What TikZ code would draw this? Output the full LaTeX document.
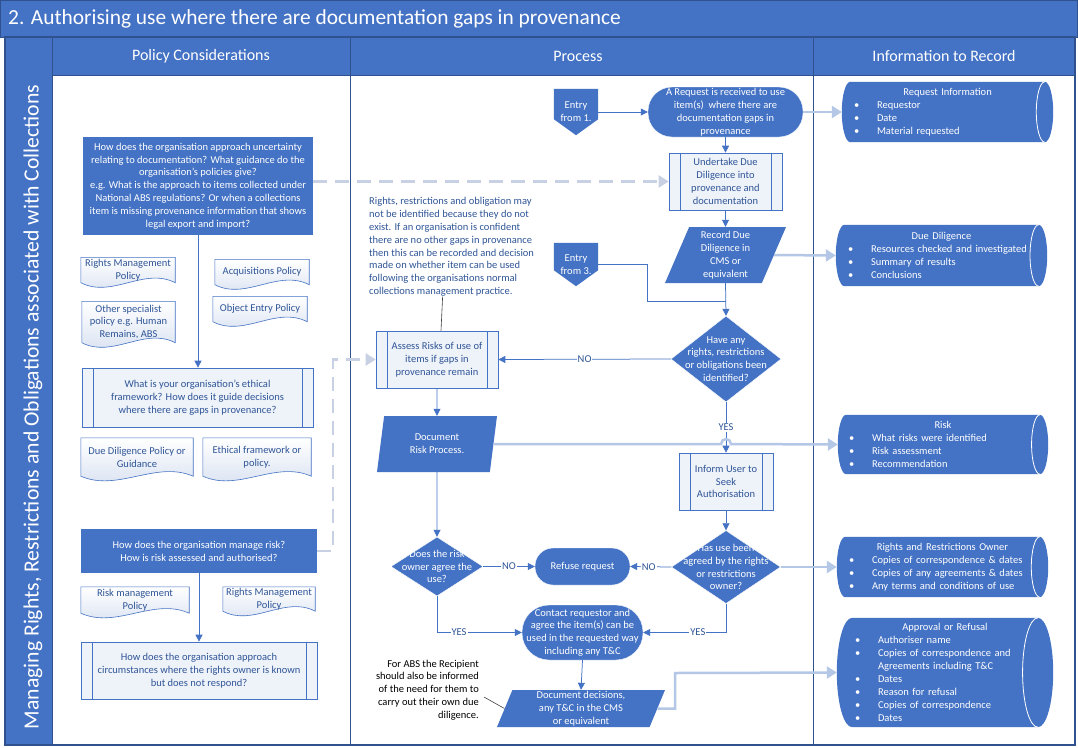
\documentclass[tikz,border=0pt]{standalone}
\usepackage{fontspec}
\setmainfont{Carlito}
\usepackage{tikz}
\usetikzlibrary{positioning,shapes.geometric,shapes.misc,arrows.meta,calc,backgrounds}
\definecolor{mainblue}{HTML}{4472C4}
\definecolor{frameblue}{HTML}{2F528F}
\definecolor{textblue}{HTML}{2F5597}
\definecolor{paleline}{HTML}{B4C7E7}
\definecolor{dashline}{HTML}{C8D1E3}
\definecolor{lightfill}{HTML}{EEF2F9}
\definecolor{docfill}{HTML}{D5DFF0}
\newcommand{\recitem}[1]{\makebox[23pt][l]{\textbullet}#1}
\newcommand{\rectitle}[1]{\hfill#1\hfill\null}
\tikzset{
  lanehead/.style={text=white, font=\fontsize{16}{19}\selectfont, inner sep=0pt},
  policy/.style={fill=mainblue, text=white, align=center, inner sep=1pt},
  subproc/.style={draw=mainblue, line width=0.7pt, fill=lightfill, text=textblue, align=center, inner sep=1pt,
    path picture={\draw[mainblue, line width=0.7pt]
      ([xshift=11pt]path picture bounding box.north west) -- ([xshift=11pt]path picture bounding box.south west)
      ([xshift=-11pt]path picture bounding box.north east) -- ([xshift=-11pt]path picture bounding box.south east);}},
  policydoc/.style={text=textblue, align=center, inner sep=0pt},
  docshape/.style={draw=mainblue, line width=0.6pt, top color=white, bottom color=docfill},
  terminal/.style={rectangle, fill=mainblue, draw=white, text=white, align=center, inner sep=0pt},
  datain/.style={trapezium, trapezium left angle=65, trapezium right angle=115, trapezium stretches body,
    fill=mainblue, text=white, align=center, inner sep=0pt},
  decision/.style={diamond, fill=mainblue, draw=white, inner sep=0pt},
  dectext/.style={text=white, align=center, inner sep=0pt},
  entrypoint/.style={text=white, align=center, minimum width=44pt, inner sep=0pt},
  record/.style={text=white, align=left, inner sep=0pt, font=\fontsize{10.5}{13}\selectfont},
  notetext/.style={text=textblue, align=left, inner sep=0pt},
  flowline/.style={draw=mainblue, line width=0.75pt, -{Triangle[length=7pt,width=7pt]}},
  flowlabel/.style={fill=white, inner sep=1pt, text=textblue},
  recline/.style={draw=paleline, line width=2.5pt, -{Triangle[length=10pt,width=12pt]}},
  policyline/.style={draw=dashline, line width=2.5pt, dash pattern=on 14pt off 8pt, -{Triangle[length=10pt,width=12pt]}},
  callout/.style={draw=black!75, line width=0.6pt}
}

\begin{document}
\begin{tikzpicture}[x=1pt, y=-1pt, font=\fontsize{10.5}{12.8}\selectfont]
  \useasboundingbox (0,0) rectangle (1078,747);

  % frame, title and lanes
  \fill[mainblue] (0,0) rectangle (1078,37);
  \draw[frameblue, line width=1pt] (0.5,0.5) rectangle (1077.5,37);
  \fill[mainblue] (5,37) rectangle (1075,75);
  \fill[mainblue] (5,75) rectangle (52,745);
  \draw[frameblue, line width=1.2pt] (5,37) rectangle (1075,745);
  \draw[frameblue, line width=1pt] (52,37) -- (52,745) (350,37) -- (350,745) (813,37) -- (813,745) (52,75) -- (1075,75);

  \node[anchor=west, inner sep=0pt, text=white, font=\fontsize{21.4}{25}\selectfont] (title) at (8,19)
    {2. Authorising use where there are documentation gaps in provenance};
  \node[rotate=90, inner sep=0pt, text=white, font=\fontsize{21.7}{25}\selectfont] (laneTitle) at (33,407)
    {Managing Rights, Restrictions and Obligations associated with Collections};
  \node[lanehead] (hPolicy) at (201,56) {Policy Considerations};
  \node[lanehead] (hProcess) at (578,56) {Process};
  \node[lanehead] (hRecord) at (944,56) {Information to Record};

  % policy considerations
  \node[policy, minimum width=230pt, minimum height=98pt] (polA) at (198,186)
    {How does the organisation approach uncertainty\\relating to documentation? What guidance do the\\organisation’s policies give?\\e.g. What is the approach to items collected under\\National ABS regulations? Or when a collections\\item is missing provenance information that shows\\legal export and import?};
  \node[policydoc, minimum width=94pt, minimum height=25pt] (docRights) at (128,270) {Rights Management\\Policy};
  \node[policydoc, minimum width=94pt, minimum height=25pt] (docAcq) at (262,272) {Acquisitions Policy};
  \node[policydoc, minimum width=93pt, minimum height=41pt] (docOther) at (128.5,322) {Other specialist\\policy e.g. Human\\Remains, ABS};
  \node[policydoc, minimum width=94pt, minimum height=25pt] (docEntry) at (260,309) {Object Entry Policy};
  \node[subproc, minimum width=231pt, minimum height=59pt] (polB) at (197.5,397.5)
    {What is your organisation’s ethical\\framework? How does it guide decisions\\where there are gaps in provenance?};
  \node[policydoc, minimum width=112pt, minimum height=38pt] (docDue) at (137,457) {Due Diligence Policy or\\Guidance};
  \node[policydoc, minimum width=108pt, minimum height=38pt] (docEthic) at (257,457) {Ethical framework or\\policy.};
  \node[policy, minimum width=236pt, minimum height=44pt] (polC) at (199,551)
    {How does the organisation manage risk?\\How is risk assessed and authorised?};
  \node[policydoc, minimum width=108pt, minimum height=26pt] (docRiskPol) at (135,600) {Risk management\\Policy};
  \node[policydoc, minimum width=92pt, minimum height=24pt] (docRights2) at (269,599) {Rights Management\\Policy};
  \node[subproc, minimum width=236pt, minimum height=57pt] (polD) at (199,670.5)
    {How does the organisation approach\\circumstances where the rights owner is known\\but does not respond?};

  % process
  \node[entrypoint, minimum height=46pt] (entry1) at (576,112) {Entry\\from 1.};
  \node[terminal, rounded corners=24pt, minimum width=155pt, minimum height=50pt] (request) at (725.5,112)
    {A Request is received to use\\item(s)\ \ where there are\\documentation gaps in\\provenance};
  \node[subproc, minimum width=113pt, minimum height=57pt] (undertake) at (725.5,181.5)
    {Undertake Due\\Diligence into\\provenance and\\documentation};
  \node[datain, trapezium left angle=63, trapezium right angle=117, minimum width=121pt, minimum height=56pt] (recordDD) at (725.5,255)
    {Record Due\\Diligence in\\CMS or\\equivalent};
  \node[entrypoint, minimum height=43pt] (entry3) at (576,264.5) {Entry\\from 3.};
  \node[notetext, anchor=west] (noteRRO) at (369,247)
    {Rights, restrictions and obligation may\\not be identified because they do not\\exist. If an organisation is confident\\there are no other gaps in provenance\\then this can be recorded and decision\\made on whether item can be used\\following the organisations normal\\collections management practice.};
  \node[decision, minimum width=110pt, minimum height=86pt,
    label={[dectext]center:{Have any\\rights, restrictions\\or obligations been\\identified?}}] (qRights) at (726,359) {};
  \node[subproc, minimum width=122pt, minimum height=57pt] (assess) at (437,359.5)
    {Assess Risks of use of\\items if gaps in\\provenance remain};
  \node[datain, trapezium left angle=70, trapezium right angle=110, minimum width=120pt, minimum height=56pt] (docRisk) at (437,444)
    {Document\\Risk Process.};
  \node[subproc, minimum width=94pt, minimum height=57pt] (inform) at (726,481.5) {Inform User to\\Seek\\Authorisation};
  \node[decision, minimum width=109pt, minimum height=73pt,
    label={[dectext]center:{Has use been\\agreed by the rights\\or restrictions\\owner?}}] (qAgreed) at (726,567) {};
  \node[terminal, rounded corners=18pt, minimum width=95pt, minimum height=37pt] (refuse) at (582.5,566.5) {Refuse request};
  \node[decision, minimum width=92pt, minimum height=59pt,
    label={[dectext]center:{Does the risk\\owner agree the\\use?}}] (qRisk) at (437,566.5) {};
  \node[terminal, rounded corners=27pt, minimum width=121pt, minimum height=55pt] (contact) at (582.5,632.5)
    {Contact requestor and\\agree the item(s) can be\\used in the requested way\\including any T\&C};
  \node[datain, trapezium left angle=66, trapezium right angle=114, minimum width=168pt, minimum height=37pt] (docDec) at (581,708.5)
    {Document decisions,\\any T\&C in the CMS\\or equivalent};
  \node[align=right, inner sep=0pt, anchor=east] (noteABS) at (479,690)
    {For ABS the Recipient\\should also be informed\\of the need for them to\\carry out their own due\\diligence.};

  % information to record
  \node[record, text width=187pt, minimum width=211pt, minimum height=60pt] (recReq) at (947.5,112)
    {\rectitle{Request Information}\\\recitem{Requestor}\\\recitem{Date}\\\recitem{Material requested}};
  \node[record, text width=187pt, minimum width=211pt, minimum height=61pt] (recDD) at (941.5,255.5)
    {\rectitle{Due Diligence}\\\recitem{Resources checked and investigated}\\\recitem{Summary of results}\\\recitem{Conclusions}};
  \node[record, text width=188pt, minimum width=210pt, minimum height=59pt] (recRisk) at (943,444.5)
    {\rectitle{Risk}\\\recitem{What risks were identified}\\\recitem{Risk assessment}\\\recitem{Recommendation}};
  \node[record, text width=187pt, minimum width=211pt, minimum height=60pt] (recOwner) at (942.5,567)
    {\rectitle{Rights and Restrictions Owner}\\\recitem{Copies of correspondence \& dates}\\\recitem{Copies of any agreements \& dates}\\\recitem{Any terms and conditions of use}};
  \node[record, text width=180pt, minimum width=216pt, minimum height=109pt] (recApp) at (945,672.5)
    {\rectitle{Approval or Refusal}\\\recitem{Authoriser name}\\\recitem{Copies of correspondence and}\\\hspace*{23pt}Agreements including T\&C\\\recitem{Dates}\\\recitem{Reason for refusal}\\\recitem{Copies of correspondence}\\\recitem{Dates}};

  % shapes behind the texts
  \begin{pgfonlayer}{background}
    \fill[white] (0,0) rectangle (1078,747);
    \foreach \d in {docRights,docAcq,docOther,docEntry,docDue,docEthic,docRiskPol,docRights2} {
      \draw[docshape] (\d.south west) -- (\d.north west) -- (\d.north east) -- (\d.south east)
        .. controls ($(\d.south west)!0.67!(\d.south east)+(0,-16)$) and ($(\d.south west)!0.33!(\d.south east)+(0,16)$) .. (\d.south west) -- cycle;
    }
    \foreach \e in {entry1,entry3} {
      \fill[mainblue] (\e.north west) -- (\e.north east) -- ([yshift=16pt]\e.south east) -- (\e.south) -- ([yshift=16pt]\e.south west) -- cycle;
    }
    \foreach \r in {recReq,recDD,recRisk,recOwner,recApp} {
      \fill[mainblue] let \p1=(\r.north west), \p2=(\r.south east), \n1={(\y1-\y2)/2}, \n2={0.28*\n1} in
        (\x1+\n2,\y1) -- (\x2-\n2,\y1) arc[start angle=90, end angle=-90, x radius=\n2, y radius=\n1]
        -- (\x1+\n2,\y2) arc[start angle=270, end angle=90, x radius=\n2, y radius=\n1] -- cycle;
      \draw[white, line width=0.8pt] let \p1=(\r.north west), \p2=(\r.south east), \n1={(\y1-\y2)/2}, \n2={0.28*\n1} in
        (\x2-\n2,\y1) arc[start angle=90, end angle=270, x radius=\n2, y radius=\n1];
    }
  \end{pgfonlayer}

  % policy connectors
  \draw[flowline] (polA.south) -- (polA.south |- polB.north);
  \draw[flowline] (polC.south) -- (polC.south |- polD.north);
  \draw[policyline] (polA.east |- undertake.west) -- (undertake.west);
  \coordinate (bendRisk) at (333,551);
  \draw[policyline] (polC.east) -- (bendRisk) |- (assess.west);

  % process connectors
  \draw[flowline] (entry1.east) -- (request.west);
  \draw[flowline] (request.south) -- (undertake.north);
  \draw[flowline] (undertake.south) -- (recordDD.north);
  \draw[flowline] (recordDD.south) -- (qRights.north);
  \coordinate (bend3) at (647,301);
  \draw[flowline, -] (entry3.east) -| (bend3) -- (bend3 -| qRights.north);
  \draw[flowline] (qRights.west) -- node[flowlabel] {NO} (assess.east);
  \draw[flowline] (qRights.south) -- node[flowlabel] {YES} (inform.north);
  \draw[flowline] (assess.south) -- (docRisk.north);
  \draw[flowline] (docRisk.south) -- (qRisk.north);
  \draw[flowline] (inform.south) -- (qAgreed.north);
  \draw[flowline] (qAgreed.west) -- node[flowlabel, pos=0.55] {NO} (refuse.east);
  \draw[flowline] (qRisk.east) -- node[flowlabel] {NO} (refuse.west);
  \draw[flowline] (qRisk.south) |- node[flowlabel, pos=0.63] {YES} (contact.west);
  \draw[flowline] (qAgreed.south) |- node[flowlabel, pos=0.67] {YES} (contact.east);
  \draw[flowline] (contact.south) -- (docDec.north);
  \draw[callout] ([xshift=-9pt]noteRRO.south) -- ([xshift=4pt]assess.north);
  \draw[callout] ([xshift=5pt,yshift=-7pt]noteABS.east) -- (docDec.west);

  % record connectors
  \draw[recline] (request.east) -- (recReq.west);
  \draw[recline] (recordDD.east) -- (recDD.west);
  \coordinate (hop) at (qRights.south |- docRisk.east);
  \draw[recline] (docRisk.east) -- ([xshift=-5pt]hop) arc[start angle=180, end angle=0, radius=5pt] -- (recRisk.west);
  \draw[recline] (qAgreed.east) -- (recOwner.west);
  \coordinate (bendDec) at (675,673);
  \draw[recline] (docDec.east) -| (bendDec) -- (recApp.west);
\end{tikzpicture}
\end{document}
